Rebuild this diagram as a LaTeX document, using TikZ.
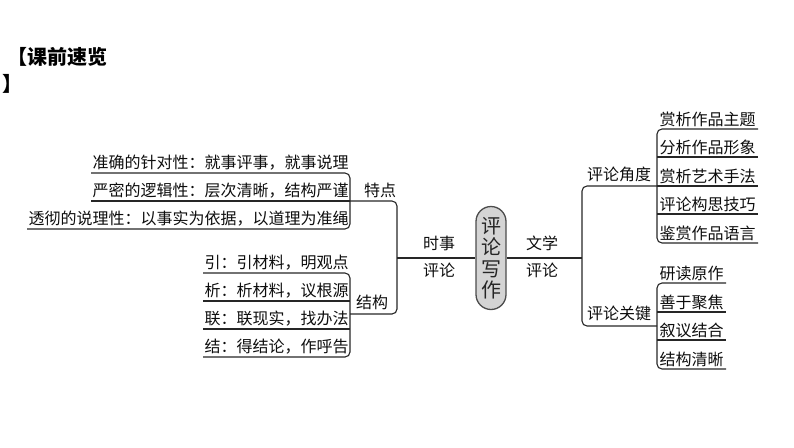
\documentclass[tikz,border=0pt]{standalone}
\usepackage{fontspec}
\newfontfamily\cjk{Noto Sans CJK SC}
\newfontfamily\cjkplain{Noto Sans CJK SC}
\begin{document}
\begin{tikzpicture}[x=1pt,y=-1pt,
  ln/.style={line width=1.1pt, draw=black!85, rounded corners=5pt},
  item/.style={font=\cjk\fontsize{16}{19}\selectfont, text=black!95, inner xsep=1.5pt, inner ysep=2.5pt, outer sep=0pt},
  ritem/.style={item, anchor=south west, inner xsep=2.5pt},
  litem/.style={item, anchor=south east},
  lab/.style={font=\cjk\fontsize{16}{19}\selectfont, text=black!95, inner sep=1pt},
  ttl/.style={font=\cjkplain\bfseries\fontsize{20}{24}\selectfont, anchor=west, inner sep=0pt}]
\useasboundingbox (0,0) rectangle (794,447);

% title
\node[ttl] (t1) at (7,57) {【课前速览};
\node[ttl] (t2) at (2,84) {】};

% left group 1
\node[litem] (a1) at (350,173) {准确的针对性：就事评事，就事说理};
\node[litem] (a2) at (350,201) {严密的逻辑性：层次清晰，结构严谨};
\node[litem] (a3) at (350,229) {透彻的说理性：以事实为依据，以道理为准绳};
\draw[ln] (a1.south west) -- (a1.south east) -- (a3.south east) -- (a3.south west);
\draw[ln] (a2.south west) -- (a2.south east);
\node[lab, anchor=south] (tedian) at (380,199) {特点};

% left group 2
\node[litem] (b1) at (350,273) {引：引材料，明观点};
\node[litem] (b2) at (350,301) {析：析材料，议根源};
\node[litem] (b3) at (350,329) {联：联现实，找办法};
\node[litem] (b4) at (350,357) {结：得结论，作呼告};
\draw[ln] (b1.south west) -- (b1.south east) -- (b4.south east) -- (b4.south west);
\draw[ln] (b2.south west) -- (b2.south east);
\draw[ln] (b3.south west) -- (b3.south east);
\node[lab, anchor=south] (jiegou) at (372,311) {结构};
\coordinate (jg) at (350,314);

% centre
\node[draw=black!70, line width=1.3pt, fill=black!17, rounded corners=15pt,
      minimum width=30pt, minimum height=103pt, inner sep=0pt, align=center,
      text=black!85, font=\cjkplain\fontsize{20}{21.5}\selectfont] (pill) at (491,258) {评\\论\\写\\作};
\coordinate (J) at (397,258);
\coordinate (K) at (582,258);
\draw[ln] (a2.south east) -| (J) |- (jg);
\draw[ln] (J) -- (pill.west);
\draw[ln] (pill.east) -- (K);
\node[lab, anchor=south] (ss) at (439,252) {时事};
\node[lab, anchor=north] (pl1) at (439,262) {评论};
\node[lab, anchor=south] (wx) at (542,252) {文学};
\node[lab, anchor=north] (pl2) at (542,262) {评论};

% right group 1
\node[ritem] (c1) at (657,129) {赏析作品主题};
\node[ritem] (c2) at (657,157) {分析作品形象};
\node[ritem] (c3) at (657,186) {赏析艺术手法};
\node[ritem] (c4) at (657,214) {评论构思技巧};
\node[ritem] (c5) at (657,243) {鉴赏作品语言};
\draw[ln] (c1.south east) -- (c1.south west) -- (c5.south west) -- (c5.south east);
\draw[ln] (c2.south west) -- (c2.south east);
\draw[ln] (c3.south west) -- (c3.south east);
\draw[ln] (c4.south west) -- (c4.south east);
\node[lab, anchor=south] (jiaodu) at (619,183) {评论角度};

% right group 2
\node[ritem] (d1) at (657,283) {研读原作};
\node[ritem] (d2) at (657,312) {善于聚焦};
\node[ritem] (d3) at (657,340) {叙议结合};
\node[ritem] (d4) at (657,369) {结构清晰};
\draw[ln] (d1.south east) -- (d1.south west) -- (d4.south west) -- (d4.south east);
\draw[ln] (d2.south west) -- (d2.south east);
\draw[ln] (d3.south west) -- (d3.south east);
\node[lab, anchor=south] (guanjian) at (619,322) {评论关键};
\coordinate (gj) at (657,326);

\draw[ln] (c3.south west) -| (K) |- (gj);
\end{tikzpicture}
\end{document}
